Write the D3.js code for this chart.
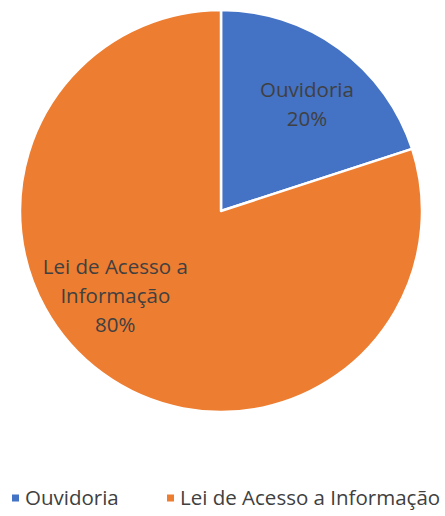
<!DOCTYPE html>
<meta charset="utf-8">
<style>
body {margin:0; background:#fff;}
text {font-family:'Open Sans', sans-serif; fill:#404040;}
</style>
<script src="https://d3js.org/d3.v7.min.js"></script>
<svg id="chart"></svg>
<script>
var categories = ['Ouvidoria', 'Lei de Acesso a Informação'];
var values = [20, 80];
var colors = ['#4472C4', '#ED7D31'];
// wrapped label lines drawn inside the slices
var labelLines = [['Ouvidoria'], ['Lei de Acesso a', 'Informação']];

var W = 445, H = 516, cx = 221, cy = 211, r = 201, fs = 20.5;
// label placement: radius fraction and angle shift (deg) from slice middle
var labR = [0.652, 0.70], labShift = [5, 12.7];

var svg = d3.select('#chart').attr('width', W).attr('height', H);
var data = categories.map(function(c, i) { return {name:c, value:values[i], color:colors[i], lines:labelLines[i]}; });
var total = d3.sum(values);

var pie = d3.pie().sort(null).value(function(d) { return d.value; });
var arc = d3.arc().innerRadius(0).outerRadius(r);
var g = svg.append('g').attr('transform', 'translate(' + cx + ',' + cy + ')');

g.selectAll('path').data(pie(data)).enter().append('path')
  .attr('d', arc).attr('fill', function(d) { return d.data.color; })
  .attr('stroke', '#fff').attr('stroke-width', 2.5).attr('stroke-linejoin', 'round');

var lbl = g.selectAll('text.lbl').data(pie(data)).enter().append('text')
  .attr('class', 'lbl').attr('text-anchor', 'middle').style('font-size', fs + 'px')
  .attr('transform', function(d, i) {
    var a = (d.startAngle + d.endAngle) / 2 + labShift[i] * Math.PI / 180, rr = r * labR[i];
    return 'translate(' + (rr * Math.sin(a)) + ',' + (-rr * Math.cos(a)) + ')';
  });
lbl.each(function(d) {
  var t = d3.select(this);
  var lines = d.data.lines.concat([Math.round(d.data.value / total * 100) + '%']);
  var lh = 28.8, y0 = -(lines.length - 1) * lh / 2 - 1;
  lines.forEach(function(s, i) {
    t.append('tspan').attr('x', 0).attr('y', y0 + i * lh).text(s);
  });
});

// legend
var legend = svg.append('g').attr('transform', 'translate(0,498)');
var lx = [12, 167];
var items = legend.selectAll('g').data(data).enter().append('g')
  .attr('transform', function(d, i) { return 'translate(' + lx[i] + ',0)'; });
items.append('rect').attr('x', 0).attr('y', -3.5).attr('width', 7).attr('height', 7)
  .attr('fill', function(d) { return d.color; });
items.append('text').attr('x', 13).attr('y', 7).style('font-size', fs + 'px')
  .text(function(d) { return d.name; });
</script>
